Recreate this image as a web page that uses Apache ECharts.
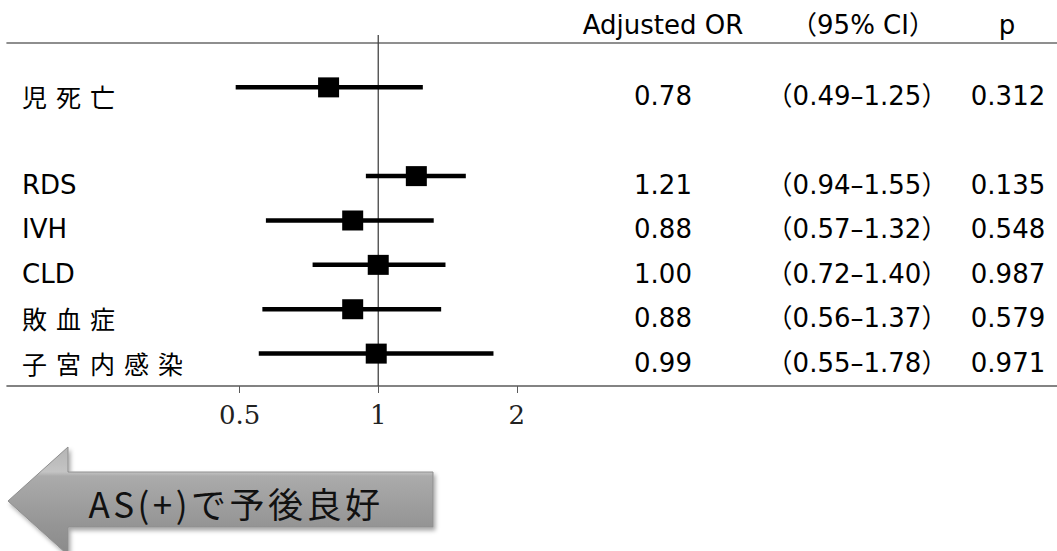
<!DOCTYPE html>
<html>
<head>
<meta charset="utf-8">
<script src="https://cdn.jsdelivr.net/npm/echarts@6/dist/echarts.min.js"></script>
<style>
html, body { margin: 0; padding: 0; background: #fff; }
#c { width: 1057px; height: 551px; }
#c text[style*="25px"] { letter-spacing: 9px; }
#c text[style*="35px"] { letter-spacing: 3.5px; }
</style>
</head>
<body>
<div id="c"></div>
<script>
// ---- data ----
const outcomes = ['児死亡', 'RDS', 'IVH', 'CLD', '敗血症', '子宮内感染'];
const orValues = [0.78, 1.21, 0.88, 1.00, 0.88, 0.99];
const ciLower = [0.49, 0.94, 0.57, 0.72, 0.56, 0.55];
const ciUpper = [1.25, 1.55, 1.32, 1.40, 1.37, 1.78];
const pValues = ['0.312', '0.135', '0.548', '0.987', '0.579', '0.971'];
const headers = ['Adjusted OR', '（95% CI）', 'p'];
const xTicks = [0.5, 1, 2];
const arrowLabel = 'AS(+)で予後良好';

// ---- layout ----
const SANS = "'DejaVu Sans', 'Noto Sans CJK JP', sans-serif";
const CJK = "'Noto Sans CJK JP', 'DejaVu Sans', sans-serif";
const yMin = -1, yMax = 6.73;
const xMin = Math.pow(2, -2.68), xMax = Math.pow(2, 4.9);
const colX = { label: 22, or: 663, ci: 857, p: 1008 };
const hasCJK = s => /[^\x00-\x7F]/.test(s);
const rowOf = i => (i === 0 ? 0 : i + 1);

const markData = outcomes.map((_, i) => [orValues[i], ciLower[i], ciUpper[i], rowOf(i)]);
const textData = outcomes.map((_, i) => [1, rowOf(i), i]);

const chart = echarts.init(document.getElementById('c'), null, { renderer: 'svg' });

chart.setOption({
  animation: false,
  backgroundColor: '#fff',
  grid: { left: 7, right: 0, top: 43, bottom: 165, outerBoundsMode: 'none' },
  xAxis: [{
    type: 'log', logBase: 2, min: xMin, max: xMax, position: 'bottom',
    axisLine: { show: true, onZero: false, lineStyle: { color: '#5a5a5a', width: 1.6 } },
    axisTick: { show: true, inside: false, length: 7, customValues: xTicks, lineStyle: { color: '#5a5a5a', width: 1 } },
    axisLabel: { customValues: xTicks, margin: 16, fontFamily: "'DejaVu Serif', serif", fontSize: 26, color: '#222',
      formatter: v => String(v) },
    splitLine: { show: false }
  }, {
    type: 'log', logBase: 2, min: xMin, max: xMax, position: 'top',
    axisLine: { show: true, onZero: false, lineStyle: { color: '#6a6a6a', width: 1.6 } },
    axisTick: { show: false }, axisLabel: { show: false }, splitLine: { show: false }
  }],
  yAxis: {
    type: 'value', inverse: true, min: yMin, max: yMax, show: false,
    splitLine: { show: false }
  },
  series: [{
    type: 'custom',
    silent: true,
    data: [[1]],
    encode: { x: 0 },
    renderItem: (params, api) => {
      const top = api.coord([api.value(0), yMin]);
      const bot = api.coord([api.value(0), yMax]);
      return { type: 'line', shape: { x1: top[0], y1: top[1] - 8, x2: bot[0], y2: bot[1] },
        style: { stroke: '#444', lineWidth: 1.3 } };
    }
  }, {
    type: 'custom',
    silent: true,
    data: markData,
    encode: { x: [0, 1, 2], y: 3 },
    renderItem: (params, api) => {
      const row = api.value(3);
      const lo = api.coord([api.value(1), row]);
      const hi = api.coord([api.value(2), row]);
      const c = api.coord([api.value(0), row]);
      return { type: 'group', children: [
        { type: 'line', shape: { x1: lo[0], y1: lo[1], x2: hi[0], y2: hi[1] }, style: { stroke: '#000', lineWidth: 4.5 } },
        { type: 'rect', shape: { x: c[0] - 10.5, y: c[1] - 10, width: 21, height: 20 }, style: { fill: '#000' } }
      ] };
    }
  }, {
    type: 'custom',
    silent: true,
    data: textData,
    encode: { y: 1 },
    renderItem: (params, api) => {
      const i = api.value(2);
      const y = api.coord([1, api.value(1)])[1] + 9;
      const name = outcomes[i];
      const ci = '（' + ciLower[i].toFixed(2) + '–' + ciUpper[i].toFixed(2) + '）';
      const t = (text, x, align, font) => ({ type: 'text', style: { text, x, y, align, verticalAlign: 'middle', font, fill: '#000' } });
      return { type: 'group', children: [
        t(name, colX.label, 'left', hasCJK(name) ? '25px ' + CJK : '26px ' + SANS),
        t(orValues[i].toFixed(2), colX.or, 'center', '26px ' + SANS),
        t(ci, colX.ci, 'center', '26px ' + SANS),
        t(pValues[i], colX.p, 'center', '26px ' + SANS)
      ] };
    }
  }],
  graphic: [
    { type: 'text', style: { text: headers[0], x: colX.or, y: 25, align: 'center', verticalAlign: 'middle', font: '26px ' + SANS, fill: '#000' } },
    { type: 'text', style: { text: headers[1], x: 863, y: 25, align: 'center', verticalAlign: 'middle', font: '26px ' + SANS, fill: '#000' } },
    { type: 'text', style: { text: headers[2], x: 1007, y: 25, align: 'center', verticalAlign: 'middle', font: '26px ' + SANS, fill: '#000' } },
    { type: 'polygon',
      shape: { points: [[8, 501], [68, 447], [68, 472], [433, 472], [433, 527], [68, 527], [68, 555]] },
      style: {
        fill: { type: 'linear', x: 0, y: 0, x2: 0, y2: 1, colorStops: [
          { offset: 0, color: '#b4b4b4' }, { offset: 0.23, color: '#c4c4c4' }, { offset: 0.27, color: '#ababab' },
          { offset: 0.72, color: '#959595' }, { offset: 1, color: '#8a8a8a' } ] },
        stroke: '#8e8e8e', lineWidth: 1,
        shadowBlur: 4, shadowOffsetX: 2, shadowOffsetY: 3, shadowColor: 'rgba(0,0,0,0.35)'
      } },
    { type: 'text', style: { text: arrowLabel, x: 236, y: 502, align: 'center', verticalAlign: 'middle',
      font: '35px ' + CJK, fill: '#111' } }
  ]
});
</script>
</body>
</html>
